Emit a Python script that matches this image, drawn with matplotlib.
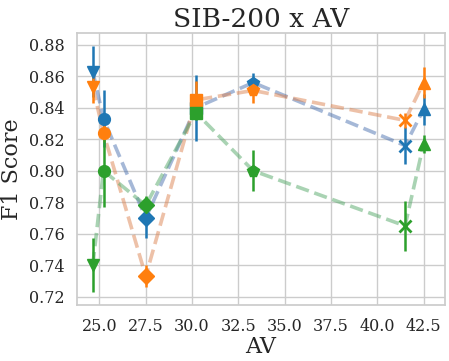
import matplotlib
matplotlib.use('Agg')
import matplotlib.pyplot as plt
import seaborn as sns

# AV values and marker per point
av = [24.64, 25.22, 27.5, 30.2, 33.3, 41.5, 42.5]
markers = ['v', 'o', 'D', 's', 'p', 'x', '^']

# three runs (mean F1 and error)
blue_f1 = [0.863, 0.833, 0.770, 0.840, 0.856, 0.816, 0.839]
blue_err = [0.016, 0.018, 0.013, 0.021, 0.006, 0.012, 0.010]
orange_f1 = [0.853, 0.824, 0.733, 0.845, 0.851, 0.832, 0.856]
orange_err = [0.010, 0.006, 0.007, 0.012, 0.008, 0.005, 0.010]
green_f1 = [0.740, 0.800, 0.778, 0.837, 0.800, 0.765, 0.817]
green_err = [0.017, 0.023, 0.006, 0.005, 0.013, 0.016, 0.006]

# (values, errors, marker colour, line colour)
series = [
    (blue_f1, blue_err, '#1f77b4', '#4c72b0'),
    (orange_f1, orange_err, '#ff7f0e', '#dd8452'),
    (green_f1, green_err, '#2ca02c', '#55a868'),
]

sns.set_theme(style='whitegrid')
plt.rcParams['font.family'] = ['DejaVu Serif']

fig = plt.figure(figsize=(4.49, 3.61), dpi=100)
ax = fig.add_axes([0.172, 0.155, 0.818, 0.754])

for f1, err, color, lcolor in series:
    ax.plot(av, f1, '--', color=lcolor, lw=2.6, alpha=0.5, zorder=2)
for f1, err, color, lcolor in series:
    for x, y, e, m in zip(av, f1, err, markers):
        ax.errorbar(x, y, yerr=e, fmt='none', ecolor=color, elinewidth=1.8,
                    capsize=0, zorder=3)
        if m == 'x':
            ax.plot(x, y, m, color=color, markersize=9, mew=2, zorder=4)
        else:
            ax.plot(x, y, m, color=color, markersize=8.5, zorder=4)

ax.set_xlim(23.8, 43.63)
ax.set_ylim(0.7147, 0.8876)
ax.set_xticks([25.0, 27.5, 30.0, 32.5, 35.0, 37.5, 40.0, 42.5])
ax.set_yticks([0.72, 0.74, 0.76, 0.78, 0.80, 0.82, 0.84, 0.86, 0.88])
ax.set_xticklabels(['25.0', '27.5', '30.0', '32.5', '35.0', '37.5', '40.0', '42.5'])
ax.set_yticklabels(['0.72', '0.74', '0.76', '0.78', '0.80', '0.82', '0.84', '0.86', '0.88'])
ax.tick_params(labelsize=11.5, colors='#262626', pad=3)
ax.set_xlabel('AV', fontsize=16, labelpad=1)
ax.set_ylabel('F1 Score', fontsize=16, labelpad=4)
ax.set_title('SIB-200 x AV', fontsize=19, pad=4)

fig.savefig('out.png', dpi=100)
